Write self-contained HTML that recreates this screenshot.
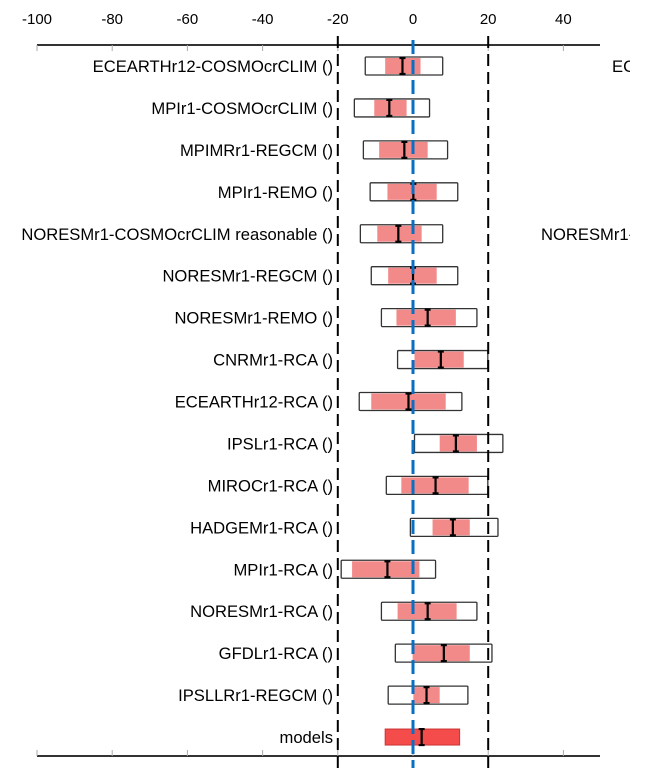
<!DOCTYPE html>
<html><head><meta charset="utf-8"><style>
html,body{margin:0;padding:0;background:#fff;}
svg{display:block;font-family:"Liberation Sans",Arial,sans-serif;}
</style></head><body>
<svg id="chart" width="659" height="774" viewBox="0 0 659 774"></svg>
<script>
const categories=["ECEARTHr12-COSMOcrCLIM ()","MPIr1-COSMOcrCLIM ()","MPIMRr1-REGCM ()","MPIr1-REMO ()","NORESMr1-COSMOcrCLIM reasonable ()","NORESMr1-REGCM ()","NORESMr1-REMO ()","CNRMr1-RCA ()","ECEARTHr12-RCA ()","IPSLr1-RCA ()","MIROCr1-RCA ()","HADGEMr1-RCA ()","MPIr1-RCA ()","NORESMr1-RCA ()","GFDLr1-RCA ()","IPSLLRr1-REGCM ()","models"];
const outerLow=[-12.7,-15.6,-13.2,-11.4,-14,-11.1,-8.4,-4.1,-14.3,0.4,-7.1,-0.7,-19.1,-8.4,-4.7,-6.6,null];
const outerHigh=[7.9,4.4,9.2,11.9,7.9,11.9,17,19.9,13,23.9,19.9,22.6,6,17,21,14.6,null];
const innerLow=[-7.4,-10.3,-9,-6.8,-9.5,-6.6,-4.4,0.4,-11.1,7.1,-3.1,5.2,-16.2,-4.1,-0.1,0.1,-7.4];
const innerHigh=[2,-1.7,3.9,6.3,2.3,6.3,11.4,13.5,8.7,17,14.8,15.1,1.7,11.6,15.1,7.1,12.4];
const medians=[-2.8,-6.3,-2.3,0.1,-3.9,0,3.9,7.4,-1.2,11.4,6,10.6,-6.8,3.9,8.2,3.6,2.3];
const tickValues=[-100,-80,-60,-40,-20,0,20,40];
const thresholds=[-20,20];
const rightLabels=[{i:0,t:"EC",x:612},{i:4,t:"NORESMr1-",x:541}];

const NS="http://www.w3.org/2000/svg";
const svg=document.getElementById('chart');
const X=v=>413+v*3.76;
const Y=i=>66+i*41.94;
function mk(tag,attrs,parent){const e=document.createElementNS(NS,tag);for(const k in attrs)e.setAttribute(k,attrs[k]);(parent||svg).appendChild(e);return e;}
const clip=mk('clipPath',{id:'c'});mk('rect',{x:0,y:0,width:630,height:774},clip);
const g=mk('g',{'clip-path':'url(#c)'});
let a=mk('line',{x1:37,y1:45,x2:600,y2:45,stroke:'#333','stroke-width':2},g);


a=mk('line',{x1:37,y1:756,x2:600,y2:756,stroke:'#333','stroke-width':2},g);


tickValues.forEach(v=>{
 const t=mk('text',{x:X(v),y:24,'font-size':15,'text-anchor':'middle',fill:'#000'},g);t.textContent=v;
 
 
 mk('line',{x1:X(v),y1:45,x2:X(v),y2:51,stroke:'#aaa','stroke-width':1},g);
 mk('line',{x1:X(v),y1:750,x2:X(v),y2:756,stroke:'#aaa','stroke-width':1},g);
});
categories.forEach((c,i)=>{
 const y=Y(i);
 const t=mk('text',{x:333,y:y+6,'font-size':16.6,'text-anchor':'end',fill:'#000'},g);t.textContent=c;
 
 
 if(outerLow[i]!=null){
  const r=mk('rect',{x:X(outerLow[i]),y:y-9,width:X(outerHigh[i])-X(outerLow[i]),height:18,fill:'#fff',stroke:'#333','stroke-width':1.3,rx:1},g);
  
  
 }
 const last=i===categories.length-1;
 const p=mk('rect',{x:X(innerLow[i]),y:y-8,width:X(innerHigh[i])-X(innerLow[i]),height:16,fill:last?'#f44b4b':'#f28a8a',stroke:last?'#c33':'none','stroke-width':last?1:0},g);
 
 
 const mx=X(medians[i]);
 const m=mk('path',{d:`M${mx-3},${y-8}H${mx+3}M${mx},${y-8}V${y+8}M${mx-3},${y+8}H${mx+3}`,stroke:'#000','stroke-width':2.2,fill:'none'},g);
 
 
});
rightLabels.forEach(r=>{
 const t=mk('text',{x:r.x,y:Y(r.i)+6,'font-size':16.6,fill:'#000'},g);t.textContent=r.t;
 
 
});
thresholds.forEach(v=>{
 const l=mk('line',{x1:X(v),y1:36,x2:X(v),y2:768,stroke:'#000','stroke-width':2,'stroke-dasharray':'12 6'},g);
 
 
});
const z=mk('line',{x1:X(0),y1:40,x2:X(0),y2:768,stroke:'#0a6fc2','stroke-width':3,'stroke-dasharray':'14 6'},g);


</script>
</body></html>
